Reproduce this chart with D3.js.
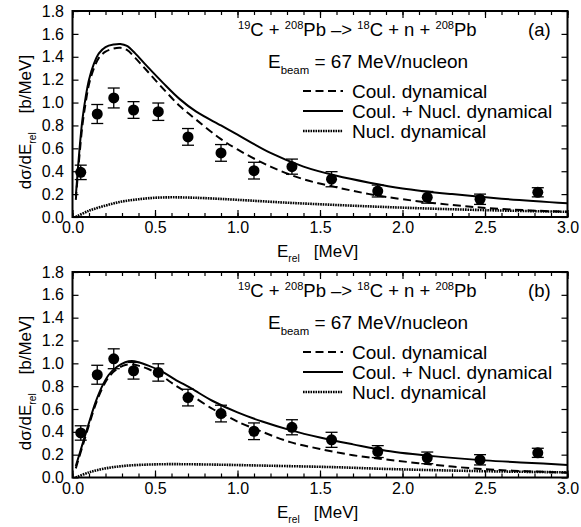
<!DOCTYPE html>
<html>
<head>
<meta charset="utf-8">
<script src="https://cdn.jsdelivr.net/npm/d3@7"></script>
<style>
  body { margin: 0; background: #fff; }
  text { font-family: "Liberation Sans", Arial, sans-serif; white-space: pre; }
</style>
</head>
<body>
<div id="canvas"></div>
<script>
"use strict"

// measured points (same in both panels)
let dataE     = [0.05, 0.15, 0.25, 0.37, 0.52, 0.70, 0.90, 1.10, 1.33, 1.57, 1.85, 2.15, 2.47, 2.82];
let dataSigma = [0.39, 0.90, 1.04, 0.935, 0.92, 0.70, 0.56, 0.405, 0.44, 0.33, 0.227, 0.172, 0.155, 0.216];
let dataErr   = [0.063, 0.083, 0.087, 0.073, 0.076, 0.073, 0.073, 0.073, 0.066, 0.066, 0.052, 0.051, 0.045, 0.04];

// panel (a) curves
let coulA_E = [0.02, 0.04, 0.06, 0.08, 0.10, 0.13, 0.16, 0.20, 0.25, 0.29, 0.33, 0.38, 0.45, 0.55, 0.65, 0.75, 0.90, 1.00, 1.20, 1.40, 1.60, 1.80, 2.00, 2.30, 2.60, 3.00];
let coulA   = [0.15, 0.50, 0.80, 1.00, 1.16, 1.30, 1.39, 1.445, 1.472, 1.478, 1.46, 1.39, 1.28, 1.12, 0.97, 0.85, 0.68, 0.59, 0.44, 0.33, 0.26, 0.20, 0.155, 0.105, 0.07, 0.045];
let bothA_E = [0.02, 0.04, 0.06, 0.08, 0.10, 0.13, 0.16, 0.20, 0.25, 0.29, 0.33, 0.38, 0.45, 0.55, 0.65, 0.75, 0.90, 1.00, 1.20, 1.40, 1.60, 1.80, 2.00, 2.30, 2.60, 3.00];
let bothA   = [0.18, 0.55, 0.85, 1.05, 1.20, 1.34, 1.43, 1.485, 1.507, 1.512, 1.495, 1.43, 1.32, 1.17, 1.03, 0.92, 0.80, 0.72, 0.56, 0.44, 0.36, 0.30, 0.25, 0.20, 0.16, 0.12];
let nuclA_E = [0.02, 0.10, 0.20, 0.30, 0.40, 0.50, 0.60, 0.70, 0.80, 1.00, 1.30, 1.60, 1.90, 2.20, 2.50, 3.00];
let nuclA   = [0.0, 0.055, 0.10, 0.135, 0.155, 0.168, 0.172, 0.17, 0.165, 0.15, 0.125, 0.105, 0.087, 0.072, 0.06, 0.045];

// panel (b) curves
let coulB_E = [0.02, 0.06, 0.10, 0.14, 0.18, 0.22, 0.27, 0.32, 0.36, 0.40, 0.46, 0.54, 0.62, 0.72, 0.85, 0.92, 1.00, 1.15, 1.32, 1.50, 1.70, 1.90, 2.20, 2.50, 2.75, 3.00];
let coulB   = [0.08, 0.27, 0.46, 0.64, 0.78, 0.88, 0.95, 0.985, 0.99, 0.98, 0.95, 0.89, 0.81, 0.72, 0.60, 0.55, 0.49, 0.40, 0.31, 0.25, 0.195, 0.158, 0.11, 0.072, 0.055, 0.042];
let bothB_E = [0.02, 0.06, 0.10, 0.14, 0.18, 0.22, 0.27, 0.32, 0.36, 0.40, 0.46, 0.54, 0.62, 0.72, 0.85, 1.00, 1.15, 1.32, 1.50, 1.70, 1.90, 2.20, 2.50, 2.75, 3.00];
let bothB   = [0.10, 0.29, 0.48, 0.66, 0.80, 0.90, 0.97, 1.01, 1.02, 1.01, 0.98, 0.93, 0.86, 0.78, 0.67, 0.57, 0.49, 0.415, 0.35, 0.29, 0.235, 0.185, 0.15, 0.13, 0.11];
let nuclB_E = [0.02, 0.10, 0.20, 0.30, 0.40, 0.50, 0.60, 0.70, 0.90, 1.10, 1.30, 1.60, 1.90, 2.20, 2.50, 3.00];
let nuclB   = [0.0, 0.045, 0.08, 0.10, 0.11, 0.115, 0.117, 0.116, 0.112, 0.106, 0.10, 0.09, 0.075, 0.064, 0.055, 0.045];

let xMajor = [0.0, 0.5, 1.0, 1.5, 2.0, 2.5, 3.0];
let yMajor = [0.0, 0.2, 0.4, 0.6, 0.8, 1.0, 1.2, 1.4, 1.6, 1.8];

let legendNames = ["Coul. dynamical", "Coul. + Nucl. dynamical", "Nucl. dynamical"];
let panelTags = ["(a)", "(b)"];

let drawingWidth = 581;
let drawingHeight = 527;

let drawing = d3.select("#canvas")
    .append("svg")
    .attr("width", drawingWidth)
    .attr("height", drawingHeight);

let left = 72.5;
let right = 567.5;

let x = d3.scaleLinear().domain([0, 3]).range([left, right]);

let dashStyles = ["8,4.5", null, "1.6,0.9"];
let widths = [2, 2, 2.6];

// superscripts / subscripts through tspans
function rich(textSel, parts, size) {
    let shift = 0;
    parts.forEach(function(p) {
        let target = p[1] == "sup" ? -0.38*size : (p[1] == "sub" ? 0.3*size : 0);
        textSel.append("tspan")
            .attr("dy", target - shift)
            .attr("font-size", p[1] == "n" ? size : size*0.6)
            .text(p[0]);
        shift = target;
    });
}

function drawPanel(top, bottom, tag, curves) {
    let y = d3.scaleLinear().domain([0, 1.8]).range([bottom, top]);
    let g = drawing.append("g");

    // ticks
    let minorX = d3.range(0, 31).map(d => d/10);
    g.append("g").attr("transform", "translate(0," + bottom + ")")
        .call(d3.axisBottom(x).tickValues(minorX).tickSize(-4).tickSizeOuter(0).tickFormat(""));
    g.append("g").attr("transform", "translate(0," + top + ")")
        .call(d3.axisTop(x).tickValues(minorX).tickSize(-4).tickSizeOuter(0).tickFormat(""));
    g.append("g").attr("transform", "translate(0," + bottom + ")")
        .call(d3.axisBottom(x).tickValues(xMajor).tickSize(-7).tickSizeOuter(0).tickPadding(5).tickFormat(d3.format(".1f")));
    g.append("g").attr("transform", "translate(0," + top + ")")
        .call(d3.axisTop(x).tickValues(xMajor).tickSize(-7).tickSizeOuter(0).tickFormat(""));
    g.append("g").attr("transform", "translate(" + left + ",0)")
        .call(d3.axisLeft(y).tickValues(yMajor).tickSize(-6).tickSizeOuter(0).tickPadding(8.5).tickFormat(d3.format(".1f")));
    g.append("g").attr("transform", "translate(" + right + ",0)")
        .call(d3.axisRight(y).tickValues(yMajor).tickSize(-6).tickSizeOuter(0).tickFormat(""));

    g.selectAll(".domain").remove();
    g.selectAll(".tick line").attr("stroke", "#000").attr("stroke-width", 1.2);
    g.selectAll(".tick text")
        .attr("font-family", "Liberation Sans, Arial, sans-serif")
        .attr("font-size", 16)
        .attr("fill", "#000");

    // curves
    let clipId = "clip" + tag.replace(/[()]/g, "");
    drawing.append("clipPath").attr("id", clipId)
        .append("rect").attr("x", left).attr("y", top)
        .attr("width", right-left).attr("height", bottom-top);

    let line = d3.line().x(d => x(d[0])).y(d => y(d[1])).curve(d3.curveCatmullRom.alpha(0.5));
    curves.forEach(function(c, i) {
        g.append("path")
            .attr("d", line(d3.zip(c[0], c[1])))
            .attr("clip-path", "url(#" + clipId + ")")
            .attr("fill", "none")
            .attr("stroke", "#000")
            .attr("stroke-width", widths[i])
            .attr("stroke-dasharray", dashStyles[i]);
    });

    // data points with error bars
    dataE.forEach(function(e, i) {
        let cx = x(e);
        let lo = y(dataSigma[i] - dataErr[i]);
        let hi = y(dataSigma[i] + dataErr[i]);
        g.append("line").attr("x1", cx).attr("x2", cx).attr("y1", lo).attr("y2", hi)
            .attr("stroke", "#000").attr("stroke-width", 1.3);
        g.append("line").attr("x1", cx-6).attr("x2", cx+6).attr("y1", lo).attr("y2", lo)
            .attr("stroke", "#000").attr("stroke-width", 1.3);
        g.append("line").attr("x1", cx-6).attr("x2", cx+6).attr("y1", hi).attr("y2", hi)
            .attr("stroke", "#000").attr("stroke-width", 1.3);
        g.append("circle").attr("cx", cx).attr("cy", y(dataSigma[i])).attr("r", 5.5).attr("fill", "#000");
    });

    // frame
    g.append("rect")
        .attr("x", left).attr("y", top)
        .attr("width", right-left).attr("height", bottom-top)
        .attr("fill", "none").attr("stroke", "#000").attr("stroke-width", 2);

    // title and labels inside
    let title = g.append("text").attr("x", 238).attr("y", top + 25).attr("font-size", 18.5);
    rich(title, [["19","sup"],["C + ","n"],["208","sup"],["Pb \u2013> ","n"],["18","sup"],["C + n + ","n"],["208","sup"],["Pb","n"]], 18.5);
    g.append("text").attr("x", 528).attr("y", top + 25).attr("font-size", 18.5).text(tag);

    let beam = g.append("text").attr("x", 268).attr("y", top + 57).attr("font-size", 19);
    rich(beam, [["E","n"],["beam","sub"],[" = 67 MeV/nucleon","n"]], 19);

    legendNames.forEach(function(name, i) {
        let ly = top + 80 + i*20;
        g.append("line").attr("x1", 303).attr("x2", 343).attr("y1", ly).attr("y2", ly)
            .attr("stroke", "#000").attr("stroke-width", widths[i])
            .attr("stroke-dasharray", dashStyles[i]);
        g.append("text").attr("x", 352).attr("y", ly + 7).attr("font-size", 19).text(name);
    });

    // axis titles
    let xl = g.append("text").attr("x", 277).attr("y", bottom + 40).attr("font-size", 17);
    rich(xl, [["E","n"],["rel","sub"],["   [MeV]","n"]], 17);

    let yl = g.append("text")
        .attr("transform", "translate(31," + (top + 111) + ") rotate(-90)")
        .attr("text-anchor", "middle")
        .attr("font-size", 17);
    rich(yl, [["d\u03c3/dE","n"],["rel","sub"],["    [b/MeV]","n"]], 17);
}

drawPanel(11, 217, panelTags[0], [[coulA_E, coulA], [bothA_E, bothA], [nuclA_E, nuclA]]);
drawPanel(272, 477.5, panelTags[1], [[coulB_E, coulB], [bothB_E, bothB], [nuclB_E, nuclB]]);
</script>
</body>
</html>
